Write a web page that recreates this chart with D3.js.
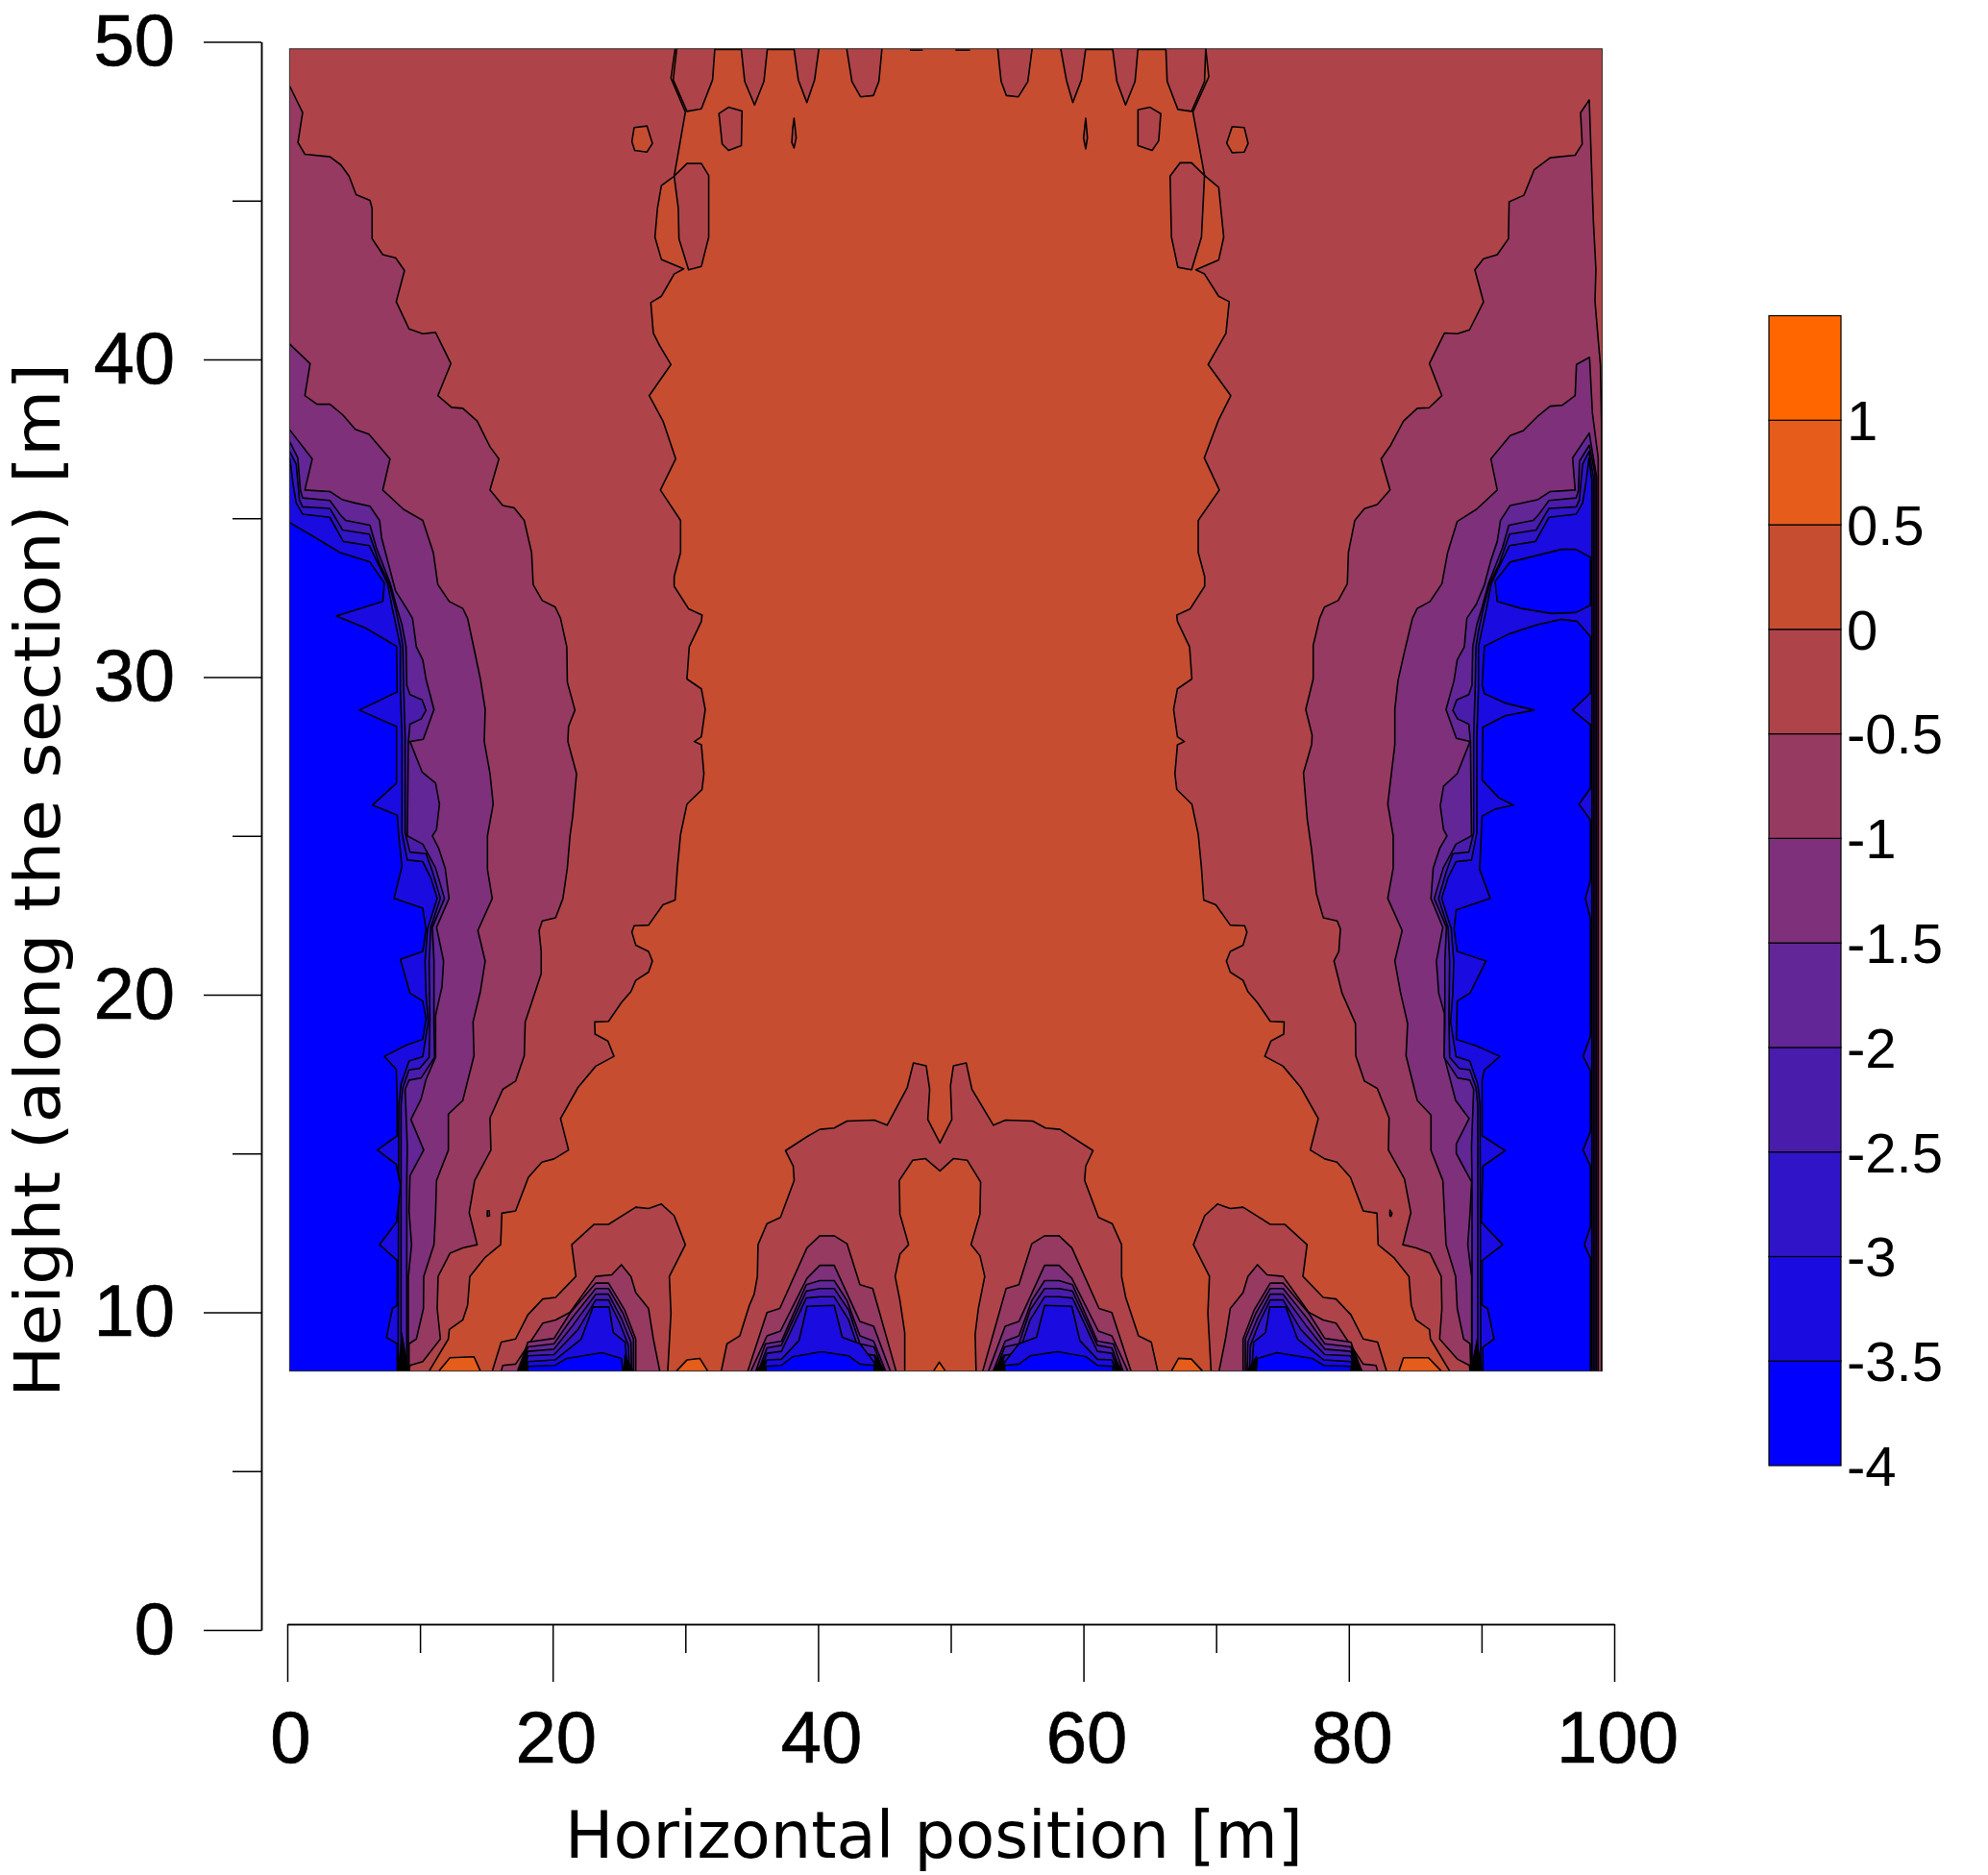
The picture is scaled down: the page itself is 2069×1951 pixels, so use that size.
<!DOCTYPE html>
<html>
<head>
<meta charset="utf-8">
<script src="https://cdn.jsdelivr.net/npm/d3@7"></script>
<style>
  body { margin: 0; background: #fff; }
  text { fill: #000; }
</style>
</head>
<body>
<div id="chart"></div>
<script>
// contour levels of the colour bar, lowest band first
const levels = [-4, -3.5, -3, -2.5, -2, -1.5, -1, -0.5, 0, 0.5, 1];
const levelTop = 1.5;
const bandColors = ["#0000ff", "#1a0be0", "#2f14c8", "#4a1cac", "#622696", "#7e307a", "#963a62", "#ae4449", "#c64d30", "#e55c1b", "#ff6600"];
const yTicks = [0, 5, 10, 15, 20, 25, 30, 35, 40, 45, 50];
const xTicks = [0, 10, 20, 30, 40, 50, 60, 70, 80, 90, 100];

// extent of the computed field [m]
const fieldX = [0.17, 98.6];
const fieldY = [8.15, 49.78];

// contours, [horizontal m, height m]
const zeroLeft = [[29.08,49.78],[28.77,48.85],[29.85,47.79],[29.01,45.77],[28.05,45.47],[27.76,44.76],[27.57,43.85],[28.05,43.15],[29.73,42.85],[29.01,42.69],[28.05,41.99],[27.26,41.79],[27.45,40.83],[27.93,40.43],[28.77,39.84],[27.14,38.86],[28.17,38.06],[29.13,36.87],[27.98,35.89],[29.49,34.93],[29.49,33.92],[29.01,33.16],[29.01,32.86],[30.09,32.15],[31.1,31.95],[31.05,31.75],[30.14,30.95],[29.97,29.94],[31.05,29.63],[31.34,28.98],[31.05,28.12],[30.52,27.97],[31.05,27.87],[31.24,26.96],[31.1,26.46],[29.97,26],[29.49,25.05],[29.25,23.99],[29.08,22.98],[28.17,22.83],[27.09,22.19],[26.01,22.17],[25.84,21.97],[26.13,21.56],[27.09,21.36],[27.38,21.06],[27.09,20.71],[26.13,20.45],[25.77,20.1],[25.05,19.75],[24.09,19.16],[23.05,19.14],[23.08,18.76],[24.04,18.54],[24.5,18.06],[23.13,17.75],[21.8,17.08],[20.49,16.1],[21.09,15.11],[20,14.83],[19.09,14.73],[18.08,14.25],[17.12,13.19],[16.09,13.12],[16,12.13],[14.84,11.73],[13.69,11.13],[13.52,10.22],[13.16,9.76],[12.15,9.46],[12.08,9.16],[10.64,8.15]];
const zeroRight = [[68.87,49.78],[69.1,48.9],[67.91,47.79],[68.78,45.79],[69.84,45.42],[70.22,43.85],[69.84,43.13],[68.13,42.82],[68.78,42.69],[69.84,41.99],[70.63,41.82],[70.39,40.83],[69.05,39.84],[70.75,38.86],[69.84,38.1],[68.76,36.9],[69.89,35.89],[68.31,34.93],[68.31,33.92],[68.79,33.16],[68.79,32.86],[67.71,32.15],[66.7,31.95],[66.75,31.75],[67.66,30.95],[67.83,29.94],[66.75,29.63],[66.46,28.98],[66.75,28.12],[67.28,27.97],[66.75,27.87],[66.56,26.96],[66.7,26.46],[67.83,26],[68.31,25.05],[68.55,23.99],[68.72,22.98],[69.63,22.83],[70.71,22.19],[71.79,22.17],[71.96,21.97],[71.67,21.56],[70.71,21.36],[70.42,21.06],[70.71,20.71],[71.67,20.45],[72.03,20.1],[72.75,19.75],[73.71,19.16],[74.75,19.14],[74.72,18.76],[73.76,18.54],[73.3,18.06],[74.67,17.75],[76,17.08],[77.31,16.1],[76.71,15.11],[77.8,14.83],[78.71,14.73],[79.72,14.25],[80.68,13.19],[81.71,13.12],[81.8,12.13],[82.96,11.73],[84.11,11.13],[84.28,10.22],[84.64,9.76],[85.65,9.46],[85.72,9.16],[87.16,8.15]];

// islands near the top
const topA = [[29.2,49.78],[28.94,48.8],[29.97,47.81],[31.05,47.89],[31.89,48.8],[32.06,49.78]];
const topB = [[34.04,49.78],[34.3,48.75],[35.04,48.01],[35.74,48.75],[36,49.78]];
const topC = [[38,49.78],[38.32,48.8],[38.96,48.09],[39.54,48.8],[39.86,49.78]];
const topD = [[41.95,49.78],[42.34,48.75],[42.98,48.27],[43.95,48.31],[44.36,48.75],[44.59,49.78]];
const topE = [[53.27,49.78],[53.53,48.75],[53.92,48.31],[54.82,48.27],[55.53,48.75],[55.85,49.78]];
const topF = [[58,49.78],[58.42,48.8],[58.9,48.09],[59.55,48.8],[59.87,49.78]];
const topG = [[61.89,49.78],[62.21,48.75],[62.86,48.01],[63.57,48.75],[63.79,49.78]];
const topH = [[65.88,49.78],[65.98,48.75],[66.78,47.87],[67.81,47.81],[68.78,48.75],[68.87,49.78]];
const topEdges = [[[32.06,49.76],[34.04,49.76]],[[36,49.76],[38,49.76]],[[46.68,49.74],[47.65,49.74]],[[50.1,49.74],[51.2,49.74]],[[59.87,49.76],[61.89,49.76]],[[63.79,49.76],[65.88,49.76]]];
const warmLeft = [[26.01,47.3],[26.97,47.35],[27.38,46.8],[26.97,46.53],[26.05,46.58],[25.84,46.86]];
const warmRight = [[70.85,47.33],[71.76,47.3],[72.05,46.8],[71.76,46.53],[70.85,46.51],[70.44,46.81]];
const coolA = [[32.37,47.74],[33.09,47.94],[34.1,47.82],[34.05,46.73],[33.09,46.58],[32.61,46.78]];
const coolB = [[38,47.59],[38.16,46.98],[38,46.66],[37.83,46.83],[37.9,47.28]];
const coolC = [[29.01,45.77],[29.97,46.17],[31.05,46.17],[31.6,45.79],[31.6,43.85],[31.05,42.93],[30.09,42.82],[29.37,43.8],[29.32,44.76]];
const coolD = [[63.79,47.86],[64.69,47.94],[65.5,47.74],[65.34,46.88],[64.85,46.58],[63.79,46.73]];
const coolE = [[59.87,47.59],[60,46.98],[59.87,46.63],[59.71,46.98]];
const coolF = [[66.94,46.19],[67.81,46.19],[68.78,45.79],[68.55,43.85],[67.81,42.82],[66.78,42.9],[66.3,43.85],[66.2,45.77]];
const dotLeft = [[15,13.2],[15.14,13.2],[15.17,13.04],[15,13.02]];
const dotRight = [[82.68,13.22],[82.84,13.12],[82.76,13.02],[82.68,13.04]];

// left side contours, top to bottom
const leftM05 = [[0.19,48.6],[1.15,47.77],[0.8,46.83],[1.32,46.46],[3.2,46.38],[4.03,46.12],[4.63,45.77],[5.16,45.19],[6.2,45.01],[6.36,44.76],[6.36,43.8],[7.16,43.3],[8.12,43.2],[8.79,42.8],[8.17,41.82],[9.13,40.96],[10.16,40.81],[11.12,40.85],[12.27,39.87],[11.29,38.86],[12.32,38.49],[13.16,38.46],[14.24,38.06],[15.2,37.25],[15.87,36.87],[15.2,35.89],[16.16,35.4],[17,35.33],[17.77,34.93],[18.32,33.92],[18.44,32.91],[19.12,32.41],[20.08,32.21],[20.49,31.85],[20.96,30.95],[21,29.84],[21.57,28.96],[21.09,28.44],[21.04,27.97],[21.69,26.96],[21.4,25.6],[21.2,25],[21,23.99],[20.67,23.03],[20.12,22.42],[19.12,22.32],[18.88,22.02],[19.04,21.36],[19.04,20.66],[17.84,19.14],[17.77,18.08],[17.12,17.28],[16.16,17.02],[15.2,16.12],[15.27,15.11],[14.05,14.15],[13.64,13.14],[14.24,12.13],[13.16,12.03],[12.2,11.86],[11.31,11.13],[11.24,10.12],[11.48,9.16],[10.16,8.45],[9.2,8.33],[9.13,8.15]];
const leftM1 = [[0.19,40.48],[1.71,39.87],[1.32,38.86],[2.23,38.59],[3.2,38.59],[4.15,38.26],[5.1,37.8],[6.12,37.65],[7.7,36.87],[7.16,35.89],[8.72,35.28],[10.16,34.93],[10.95,33.92],[11.29,32.91],[12.15,32.38],[13.16,32.16],[13.52,31.85],[14,30.9],[14.48,29.94],[14.84,28.98],[14.77,27.97],[15.2,26.96],[15.44,26],[15.01,25],[15.01,23.94],[15.37,23.03],[14.29,22.02],[14.84,21.06],[14.48,20.1],[13.93,19.14],[14,18.08],[13.16,16.67],[12.08,16.24],[12.08,15.11],[11.19,14.15],[11.12,13.14],[11,12.13],[10.23,11.13],[10.21,10.12],[9.68,9.16],[9.13,9.01],[9.13,8.15]];
const leftM15 = [[0.19,37.78],[1.87,36.87],[1.32,35.89],[3.2,35.84],[4.15,35.58],[5.1,35.48],[6.2,35.38],[6.92,34.93],[7.08,34.37],[7.52,33.67],[8.12,32.71],[8.96,32.15],[9.39,31.85],[9.68,30.95],[10.16,30.54],[10.4,29.94],[11,28.98],[10.2,28.04],[9.2,27.97],[10.11,27.01],[11.12,26.66],[11.41,26],[11.19,25.2],[10.88,25],[11.36,24.6],[11.84,23.99],[12.13,23.03],[11.19,22.12],[11.72,21.06],[11.6,20.25],[11.12,19.35],[11.12,18.03],[10.4,17.33],[10.04,16.72],[9.27,16.07],[10.23,15.11],[9.2,14.3],[9.13,13.19],[9.32,12.13],[9.08,11.13],[9.08,8.15]];
const leftM2 = [[0.19,37.4],[0.79,36.9],[0.98,35.89],[1.15,35.64],[3.19,35.56],[4.03,35.08],[4.39,34.93],[6.2,34.78],[6.68,34.07],[7.71,32.96],[8.24,32.15],[8.6,31.65],[8.91,30.95],[8.96,29.74],[9.2,29.45],[10.11,29.28],[10.4,28.95],[10.04,28.68],[9.2,28.52],[9.08,27.97],[9,25],[10.16,24.74],[11.12,23.99],[11.79,23.03],[10.88,22.12],[11,21.06],[11,19.14],[11.05,18.03],[10.04,17.38],[9.13,17.31],[8.84,17.02],[9,15.21],[8.96,14],[8.96,8.15]];
const leftM25 = [[0.19,37.1],[0.67,36.7],[0.91,35.58],[1.15,35.36],[3.19,35.31],[4.15,34.63],[6.15,34.5],[6.92,33.57],[7.64,32.94],[8.12,32.15],[8.48,31.45],[8.67,30.95],[8.72,29.74],[8.84,28.12],[8.84,25.1],[9.2,24.49],[10.4,24.44],[10.88,23.89],[11.48,23.03],[10.76,22.12],[10.64,21.06],[10.69,19.24],[10.64,18.03],[9.92,17.68],[9.13,17.63],[8.67,17.08],[8.53,16.52],[8.53,8.15]];
const leftM3 = [[0.19,36.89],[0.43,36.09],[0.67,35.48],[1.15,35.13],[3.19,35.03],[4.2,34.27],[6.15,34.14],[7.04,33.37],[7.52,32.94],[7.88,32.15],[8.24,31.45],[8.48,30.95],[8.48,29.63],[8.6,28.12],[8.6,25.1],[9,24.24],[10.16,24.19],[10.76,23.68],[11.24,23.03],[10.52,22.07],[10.33,21.06],[10.4,20.05],[10.57,19.14],[10.16,18.05],[9.13,17.91],[8.53,17.18],[8.36,16.52],[8.31,8.15]];
const leftM35 = [[0.19,34.86],[1.75,34.48],[3.96,33.92],[6.2,33.62],[7.28,32.96],[7.16,32.38],[3.67,31.92],[5.84,31.55],[8.19,30.97],[8.24,29.53],[5.4,28.96],[8.19,28.44],[8.19,26.66],[6.39,25.97],[8.24,25.65],[8.36,25],[8.6,24.04],[8,23.03],[10.16,22.72],[10.4,22.07],[10.16,21.36],[8.48,21.11],[9.2,20.05],[10.16,19.8],[10.4,19.24],[10.16,18.59],[8.96,18.42],[7.28,18.06],[8.17,17.65],[8.24,16.62],[8.24,15.56],[6.75,15.11],[8.17,14.66],[8.48,14],[8.19,12.84],[6.92,12.13],[8.24,11.63],[8.24,10.22],[7.88,10.12],[7.44,9.21],[8.24,9.01],[8.24,8.15]];

// right side contours, each runs up the dense edge column and back down
const rightM05 = [[98.55,8.15],[98.55,38],[98.47,39.82],[98.3,40.63],[98.06,41.84],[98.13,42.84],[97.94,44.36],[97.63,48.17],[96.98,47.77],[97.1,46.78],[96.57,46.43],[94.7,46.35],[93.5,45.97],[92.73,45.17],[91.62,44.96],[91.57,43.8],[90.73,43.3],[89.7,43.17],[89.05,42.82],[89.7,41.81],[88.65,40.93],[87.73,40.81],[86.77,40.83],[85.64,39.87],[86.58,38.86],[85.62,38.48],[84.73,38.46],[83.7,38.06],[82.74,37.3],[82.02,36.87],[82.69,35.89],[81.73,35.43],[80.77,35.3],[80.05,34.93],[79.57,33.92],[79.49,32.94],[78.8,32.41],[77.77,32.2],[77.41,31.85],[76.93,31],[76.93,29.94],[76.37,28.98],[76.85,28.17],[76.81,27.87],[76.2,26.99],[76.49,25.5],[76.8,24.59],[77.17,23.18],[77.69,22.42],[78.73,22.32],[78.97,22.07],[78.85,21.36],[78.49,21.06],[79.09,20.05],[80.1,19.09],[80.12,18.08],[80.77,17.28],[81.73,17.05],[82.62,16.12],[82.57,15.11],[83.77,14.2],[84.25,13.14],[83.65,12.13],[84.66,12.03],[85.69,11.86],[86.53,11.13],[86.58,10.12],[86.41,9.16],[87.73,8.53],[88.64,8.33],[88.69,8.15]];
const rightM1 = [[98.3,8.15],[98.3,36.9],[97.87,38.3],[97.65,40.07],[96.67,39.84],[96.57,38.86],[95.61,38.56],[94.7,38.53],[93.74,38.2],[92.66,37.75],[91.7,37.6],[90.25,36.87],[90.73,35.89],[89.17,35.28],[87.73,34.9],[87.01,33.92],[86.58,32.94],[85.69,32.38],[84.73,32.16],[84.37,31.85],[83.77,30.79],[83.29,29.89],[83.05,28.98],[83.05,27.87],[82.52,26],[82.93,25],[82.93,23.99],[82.52,23.03],[83.6,22.02],[83.05,21.06],[83.46,20.1],[84.01,19.09],[83.89,18.08],[84.73,16.67],[85.76,16.21],[85.76,15.1],[86.65,14.15],[86.77,13.14],[86.89,12.13],[87.61,11.13],[87.73,10.12],[88.21,9.16],[88.69,9.01],[88.74,8.15]];
const rightM15 = [[98.18,8.15],[98.18,36.3],[97.63,37.68],[96.38,36.9],[96.57,35.89],[94.7,35.84],[93.74,35.58],[91.7,35.4],[90.97,34.93],[90.73,34.27],[90.25,33.67],[89.77,32.91],[89.17,32.3],[88.45,31.85],[88.26,30.95],[87.73,30.54],[87.49,29.89],[86.89,28.98],[87.66,28.07],[88.69,27.97],[87.73,26.96],[86.7,26.56],[86.46,25.95],[86.7,25.2],[86.96,25],[86.41,24.6],[85.93,23.99],[85.76,23.03],[86.65,22.12],[86.17,21.06],[86.34,20.05],[86.77,19.4],[86.77,18.03],[87.61,16.67],[88.62,16.1],[87.66,15.3],[87.66,15],[88.81,14.1],[88.69,13.14],[88.52,12.13],[88.81,11.13],[88.81,8.15]];
const rightM2 = [[98.06,8.15],[98.06,36.4],[97.63,37.3],[96.9,36.8],[96.82,35.89],[96.65,35.64],[94.61,35.56],[93.77,35.08],[93.41,34.93],[91.6,34.78],[91.12,34.07],[90.09,32.96],[89.56,32.15],[89.2,31.65],[88.89,30.95],[88.84,29.74],[88.6,29.45],[87.69,29.28],[87.4,28.95],[87.76,28.68],[88.6,28.52],[88.72,27.97],[88.8,25],[87.64,24.74],[86.68,23.99],[86.01,23.03],[86.92,22.12],[86.8,21.06],[86.8,19.14],[86.75,18.03],[87.76,17.38],[88.67,17.31],[88.96,17.02],[88.8,15.21],[88.84,14],[88.84,8.15]];
const rightM25 = [[97.94,8.15],[97.94,36.3],[97.61,37.1],[97.13,36.7],[96.89,35.58],[96.65,35.36],[94.61,35.31],[93.65,34.63],[91.65,34.5],[90.88,33.57],[90.16,32.94],[89.68,32.15],[89.32,31.45],[89.13,30.95],[89.08,29.74],[88.96,28.12],[88.96,25.1],[88.6,24.49],[87.4,24.44],[86.92,23.89],[86.32,23.03],[87.04,22.12],[87.16,21.06],[87.11,19.24],[87.16,18.03],[87.88,17.68],[88.67,17.63],[89.13,17.08],[89.27,16.52],[89.27,8.15]];
const rightM3 = [[97.82,8.15],[97.82,36.2],[97.61,36.89],[97.37,36.09],[97.13,35.48],[96.65,35.13],[94.61,35.03],[93.6,34.27],[91.65,34.14],[90.76,33.37],[90.28,32.94],[89.92,32.15],[89.56,31.45],[89.32,30.95],[89.32,29.63],[89.2,28.12],[89.2,25.1],[88.8,24.24],[87.64,24.19],[87.04,23.68],[86.56,23.03],[87.28,22.07],[87.47,21.06],[87.4,20.05],[87.23,19.14],[87.64,18.05],[88.67,17.91],[89.27,17.18],[89.44,16.52],[89.49,8.15]];
const rightM35Upper = [[97.72,33.77],[96.62,34.02],[95.54,34.02],[91.7,33.62],[90.57,33.01],[90.73,32.38],[92.53,32.16],[94.82,32],[96.62,32.03],[97.72,32.26]];
const rightM35 = [[97.72,31.27],[96.74,31.75],[95.54,31.82],[93.74,31.65],[91.57,31.35],[89.77,30.97],[89.65,30.14],[89.6,29.74],[89.77,29.48],[91.33,29.18],[93.5,28.96],[91.33,28.78],[89.65,28.42],[89.6,26.76],[90.85,26.2],[91.94,25.97],[90.61,25.85],[89.6,25.62],[89.41,23.94],[90.21,23.03],[87.66,22.67],[87.49,22.07],[87.73,21.36],[89.89,21.06],[88.69,20.05],[87.73,19.8],[87.66,18.59],[89.17,18.39],[90.93,18.06],[89.77,17.63],[89.6,17.33],[89.6,15.56],[91.33,15.09],[89.65,14.6],[89.53,12.84],[91.14,12.13],[89.6,11.63],[89.6,10.22],[90.01,10.12],[90.49,9.16],[89.65,8.9],[89.65,8.15]];
const rightM35Edge = [[97.72,8.15],[97.72,11.7],[97.27,12.13],[97.72,12.7],[97.72,14.6],[97.17,15.11],[97.72,15.7],[97.72,17.6],[97.17,18.06],[97.72,18.7],[97.72,22.4],[97.34,23.03],[97.72,23.6],[97.72,25.5],[96.86,26],[97.72,26.5],[97.72,28.5],[96.38,28.96],[97.72,29.5],[97.72,31.27]];

// bottom lobes, lobe 1 at x=23.6
const lobe1M0 = [[15.37,8.15],[16.04,9.06],[17.12,9.16],[18.04,9.92],[19.16,10.42],[20.12,10.47],[21.64,11.13],[21.33,12.13],[23.01,12.77],[24.09,12.77],[26.13,13.31],[27.09,13.27],[28.05,13.41],[29.01,13.04],[29.85,12.13],[28.65,11.13],[28.77,9.97],[28.53,8.15]];
const lobe1M05 = [[16.04,8.15],[16.16,8.33],[17.12,8.37],[19.16,9.66],[20.12,9.76],[21.2,10],[23.13,11.13],[24.33,11.18],[25.05,11.5],[25.77,11.13],[26.13,10.62],[27.09,10.12],[27.45,9.16],[27.93,8.15]];
const lobe1M1 = [[17.3,8.15],[18.04,9.06],[20,9.18],[21.2,9.97],[23.13,10.92],[24.09,10.92],[25.3,10.07],[26.13,9.16],[26.13,8.15]];
const lobe1M15 = [[17.48,8.15],[18.04,8.91],[20,9.01],[21.33,9.81],[23.13,10.75],[24.09,10.75],[25.17,9.97],[25.96,9.16],[25.96,8.15]];
const lobe1M2 = [[17.6,8.15],[18.04,8.77],[20,8.84],[21.45,9.61],[23.13,10.57],[24.09,10.57],[25.05,9.81],[25.77,9.06],[25.82,8.15]];
const lobe1M25 = [[17.72,8.15],[18.04,8.63],[20,8.67],[21.8,9.46],[23.13,10.39],[24.09,10.39],[24.93,9.66],[25.58,8.96],[25.65,8.15]];
const lobe1M3 = [[17.84,8.15],[18.04,8.45],[20.07,8.5],[22.04,9.16],[22.93,10.17],[24.13,10.17],[24.45,9.36],[25.34,9.06],[25.48,8.15]];
const lobe1M35 = [[18.04,8.15],[18.04,8.3],[20.07,8.33],[20.96,8.55],[23.6,8.73],[25.05,8.55],[25.17,8.15]];

// lobes 2 and 3 share one outer contour with the notch in the middle
const lobeMidM0 = [[32.54,8.15],[32.97,9.01],[33.93,9.26],[34.65,10.22],[35.01,10.57],[35.25,11.13],[35.3,12.13],[35.97,12.79],[36.98,12.99],[38.01,14.15],[37.94,14.6],[37.36,15.09],[38.97,15.53],[39.93,15.76],[41.01,15.8],[41.97,16.02],[44.02,16.05],[44.98,15.89],[46.49,17.08],[46.95,17.85],[47.91,17.76],[48.17,17.02],[48.03,16.07],[48.94,15.33],[49.83,16.07],[49.73,17.13],[49.95,17.76],[50.91,17.85],[51.34,17.02],[52.95,15.89],[53.86,16.05],[55.9,16.02],[56.86,15.8],[57.94,15.76],[60.42,15.09],[59.87,14.6],[59.79,14.15],[60.83,12.99],[61.86,12.79],[62.56,12.13],[62.56,11.13],[62.87,10.47],[63.83,9.26],[64.79,9.06],[65.27,8.15]];
const heart = [[46.3,8.15],[46.3,9.36],[45.94,10.37],[45.58,11.13],[45.94,11.83],[46.59,12.13],[45.94,13.09],[45.89,14.15],[46.9,14.79],[47.86,14.84],[48.94,14.45],[49.95,14.84],[50.98,14.79],[51.99,14.1],[51.94,13.09],[51.27,12.13],[51.94,11.78],[52.3,11.13],[51.82,10.12],[51.58,9.31],[51.65,8.15]];

const lobe2M05 = [[34.53,8.15],[35.97,9.99],[36.93,10.12],[38.97,12.03],[39.93,12.41],[41.01,12.41],[41.97,12.16],[42.94,10.87],[43.9,10.75],[45.65,8.15]];
const lobe2M1 = [[34.77,8.15],[35.97,9.26],[36.98,9.41],[38.97,11.07],[39.93,11.48],[41.01,11.48],[42.94,9.71],[43.97,9.56],[45.22,8.15]];
const lobe2M15 = [[35.13,8.15],[35.85,9.01],[37.05,9.09],[38.92,10.87],[39.93,11],[41.01,11],[41.97,10.37],[42.94,9.26],[43.97,9.09],[44.86,8.15]];
const lobe2M2 = [[35.32,8.15],[35.97,8.88],[37.05,8.96],[38.92,10.67],[39.93,10.75],[41.01,10.75],[42.1,10.07],[42.94,9.01],[44,8.91],[44.69,8.15]];
const lobe2M25 = [[35.49,8.15],[35.97,8.71],[37.05,8.77],[38.92,10.45],[39.93,10.49],[41.01,10.49],[42.1,9.76],[42.94,8.71],[44,8.65],[44.5,8.15]];
const lobe2M3 = [[35.66,8.15],[35.97,8.5],[37.05,8.52],[38.37,9.11],[38.97,10.19],[41.01,10.22],[41.62,9.21],[42.94,9.01],[43.97,8.45],[44.26,8.15]];
const lobe2M35 = [[35.9,8.15],[35.9,8.3],[37.05,8.33],[37.89,8.6],[40.05,8.76],[42.1,8.63],[42.94,8.37],[44,8.33],[44,8.15]];

const lobe3M05 = [[52.15,8.15],[53.9,10.75],[54.86,10.87],[55.83,12.16],[56.79,12.41],[57.87,12.41],[58.83,12.03],[60.87,10.12],[61.83,9.99],[63.27,8.15]];
const lobe3M1 = [[52.58,8.15],[53.83,9.56],[54.86,9.71],[56.79,11.48],[57.87,11.48],[58.83,11.07],[60.82,9.41],[61.83,9.26],[63.03,8.15]];
const lobe3M15 = [[52.94,8.15],[53.83,9.09],[54.86,9.26],[55.83,10.37],[56.79,11],[57.87,11],[58.88,10.87],[60.75,9.09],[61.95,9.01],[62.67,8.15]];
const lobe3M2 = [[53.11,8.15],[53.8,8.91],[54.86,9.01],[55.7,10.07],[56.79,10.75],[57.87,10.75],[58.88,10.67],[60.75,8.96],[61.83,8.88],[62.48,8.15]];
const lobe3M25 = [[53.3,8.15],[53.8,8.65],[54.86,8.71],[55.7,9.76],[56.79,10.49],[57.87,10.49],[58.88,10.45],[60.75,8.77],[61.83,8.71],[62.31,8.15]];
const lobe3M3 = [[53.54,8.15],[53.83,8.45],[54.86,9.01],[56.18,9.21],[56.79,10.22],[58.83,10.19],[59.43,9.11],[60.75,8.52],[61.83,8.5],[62.14,8.15]];
const lobe3M35 = [[53.8,8.15],[53.8,8.33],[54.86,8.37],[55.7,8.63],[57.75,8.76],[59.91,8.6],[60.75,8.33],[61.9,8.3],[61.9,8.15]];

const lobe4M0 = [[69.27,8.15],[69.03,9.97],[69.15,11.13],[67.95,12.13],[68.79,13.04],[69.75,13.41],[70.71,13.27],[71.67,13.31],[73.71,12.77],[74.79,12.77],[76.47,12.13],[76.16,11.13],[77.68,10.47],[78.64,10.42],[79.76,9.92],[80.68,9.16],[81.76,9.06],[82.43,8.15]];
const lobe4M05 = [[69.87,8.15],[70.35,9.16],[70.71,10.12],[71.67,10.62],[72.03,11.13],[72.75,11.5],[73.47,11.18],[74.67,11.13],[76.6,10],[77.68,9.76],[78.64,9.66],[80.68,8.37],[81.64,8.33],[81.76,8.15]];
const lobe4M1 = [[71.67,8.15],[71.67,9.16],[72.5,10.07],[73.71,10.92],[74.67,10.92],[76.6,9.97],[77.8,9.18],[79.76,9.06],[80.5,8.15]];
const lobe4M15 = [[71.84,8.15],[71.84,9.16],[72.63,9.97],[73.71,10.75],[74.67,10.75],[76.47,9.81],[77.8,9.01],[79.76,8.91],[80.32,8.15]];
const lobe4M2 = [[71.98,8.15],[72.03,9.06],[72.75,9.81],[73.71,10.57],[74.67,10.57],[76.35,9.61],[77.8,8.84],[79.76,8.77],[80.2,8.15]];
const lobe4M25 = [[72.15,8.15],[72.22,8.96],[72.87,9.66],[73.71,10.39],[74.67,10.39],[76,9.46],[77.8,8.67],[79.76,8.63],[80.08,8.15]];
const lobe4M3 = [[72.32,8.15],[72.46,9.06],[73.35,9.36],[73.67,10.17],[74.87,10.17],[75.76,9.16],[77.73,8.5],[79.76,8.45],[79.96,8.15]];
const lobe4M35 = [[72.63,8.15],[72.75,8.55],[74.2,8.73],[76.84,8.55],[77.73,8.33],[79.76,8.3],[79.76,8.15]];

// small 0.5 patches on the bottom edge
const hotA = [[11.36,8.15],[12.2,8.57],[14,8.6],[14.48,8.15]];
const hotB = [[29.18,8.15],[29.97,8.5],[30.93,8.55],[31.53,8.15]];
const hotC = [[48.46,8.15],[48.89,8.43],[49.35,8.15]];
const hotD = [[66.3,8.15],[66.83,8.55],[67.79,8.53],[68.63,8.15]];
const hotE = [[83.36,8.15],[83.7,8.57],[85.57,8.57],[86.53,8.15]];

// spots on the bottom edge where so many contours meet that they merge to black
const merged = [
    [[8.24,8.15],[8.6,9.4],[9.13,8.15]],
    [[17.2,8.15],[18,9],[18.04,8.15]],
    [[25.17,8.15],[25.3,8.7],[26,8.15]],
    [[35.13,8.15],[35.85,8.6],[35.9,8.15]],
    [[44,8.15],[44.06,8.7],[44.86,8.15]],
    [[52.9,8.15],[53.74,8.7],[53.8,8.15]],
    [[62,8.15],[62.03,8.6],[62.7,8.15]],
    [[71.9,8.15],[72.7,8.65],[72.72,8.15]],
    [[79.8,8.15],[79.82,9],[80.65,8.15]],
    [[88.69,8.15],[89.2,9.2],[89.65,8.15]]
];

const svg = d3.select("#chart").append("svg")
    .attr("width", 2069)
    .attr("height", 1951);

const x = d3.scaleLinear().domain([0, 100]).range([299, 1680]);
const y = d3.scaleLinear().domain([0, 50]).range([1696, 43.5]);
const barScale = d3.scaleLinear().domain([-4, levelTop]).range([1525, 328.5]);
// the contour readings above came out 0.5% short against the final axis
const readingScale = 1.005;

const bandColor = i => bandColors[i];
const band = v => bandColor(levels.indexOf(v));

const line = d3.line().x(d => x(d[0] * readingScale)).y(d => y(d[1]));

const field = svg.append("g");

function fillShape(pts, color) {
    field.append("path").attr("d", line(pts) + "Z").attr("fill", color).attr("stroke", "none");
}
function strokeShape(pts, closed) {
    field.append("path")
        .attr("d", line(pts) + (closed ? "Z" : ""))
        .attr("fill", "none")
        .attr("stroke", "#000")
        .attr("stroke-width", 1.6)
        .attr("stroke-linejoin", "round");
}
// filled area bounded by a contour that ends on the field border
function openShape(pts, color) {
    fillShape(pts, color);
    strokeShape(pts, false);
}
function closedShape(pts, color) {
    fillShape(pts, color);
    strokeShape(pts, true);
}

// base band and the central 0 region
fillShape([[fieldX[0], fieldY[0]], [fieldX[0], fieldY[1]], [fieldX[1], fieldY[1]], [fieldX[1], fieldY[0]]], band(-0.5));
fillShape(zeroLeft.concat(zeroRight.slice().reverse()), band(0));
strokeShape(zeroLeft, false);
strokeShape(zeroRight, false);

[topA, topB, topC, topD, topE, topF, topG, topH].forEach(d => openShape(d, band(-0.5)));
topEdges.forEach(d => strokeShape(d, false));
[coolA, coolB, coolC, coolD, coolE, coolF].forEach(d => closedShape(d, band(-0.5)));
[warmLeft, warmRight].forEach(d => closedShape(d, band(0)));
[dotLeft, dotRight].forEach(d => closedShape(d, band(-1)));

// side walls, outermost level first
const leftContours = [[leftM05, -1], [leftM1, -1.5], [leftM15, -2], [leftM2, -2.5], [leftM25, -3], [leftM3, -3.5], [leftM35, -4]];
leftContours.forEach(([pts, lv]) => {
    fillShape(pts.concat([[fieldX[0], fieldY[0]], [fieldX[0], pts[0][1]]]), band(lv));
    strokeShape(pts, false);
});
const rightContours = [[rightM05, -1], [rightM1, -1.5], [rightM15, -2], [rightM2, -2.5], [rightM25, -3], [rightM3, -3.5]];
rightContours.forEach(([pts, lv]) => openShape(pts, band(lv)));
closedShape(rightM35Upper, band(-4));
fillShape(rightM35.concat([[97.72, 8.15]]).concat(rightM35Edge), band(-4));
strokeShape(rightM35, false);
strokeShape(rightM35Edge, false);

// bottom lobes
openShape(lobe1M0, band(-0.5));
openShape(lobe4M0, band(-0.5));
openShape(lobeMidM0, band(-0.5));
openShape(heart, band(0));
[
    [lobe1M05, lobe1M1, lobe1M15, lobe1M2, lobe1M25, lobe1M3, lobe1M35],
    [lobe2M05, lobe2M1, lobe2M15, lobe2M2, lobe2M25, lobe2M3, lobe2M35],
    [lobe3M05, lobe3M1, lobe3M15, lobe3M2, lobe3M25, lobe3M3, lobe3M35],
    [lobe4M05, lobe4M1, lobe4M15, lobe4M2, lobe4M25, lobe4M3, lobe4M35]
].forEach(lobe => lobe.forEach((pts, i) => openShape(pts, band(levels[6 - i]))));
[hotA, hotB, hotC, hotD, hotE].forEach(d => openShape(d, band(0.5)));
merged.forEach(d => fillShape(d, "#000"));

// field frame
svg.append("rect")
    .attr("x", x(fieldX[0] * readingScale)).attr("y", y(fieldY[1]))
    .attr("width", x(fieldX[1] * readingScale) - x(fieldX[0] * readingScale))
    .attr("height", y(fieldY[0]) - y(fieldY[1]))
    .attr("fill", "none").attr("stroke", "#333").attr("stroke-width", 1);

// axes, long ticks carry the labels
function styleAxis(g) {
    g.selectAll("path, line").attr("stroke", "#000").attr("stroke-width", 1.5);
    g.selectAll("text")
        .attr("font-family", "'Liberation Sans', Arial, sans-serif")
        .attr("font-size", 76)
        .attr("fill", "#000")
        .attr("stroke", "#000")
        .attr("stroke-width", 0.7);
}
const xAxisY = 1690, yAxisX = 272;
const xMajor = xTicks.filter(d => d % 20 === 0), yMajor = yTicks.filter(d => d % 10 === 0);

svg.append("g").attr("transform", `translate(0,${xAxisY})`)
    .call(d3.axisBottom(x).tickValues(xTicks.filter(d => d % 20 !== 0)).tickSizeInner(30).tickSizeOuter(0).tickFormat(""))
    .call(styleAxis);
svg.append("g").attr("transform", `translate(0,${xAxisY})`)
    .call(d3.axisBottom(x).tickValues(xMajor).tickSizeInner(60).tickSizeOuter(0).tickPadding(30).tickFormat(d3.format("d")))
    .call(styleAxis)
    .call(g => g.selectAll("text").attr("dx", 3));

svg.append("g").attr("transform", `translate(${yAxisX},0)`)
    .call(d3.axisLeft(y).tickValues(yTicks.filter(d => d % 10 !== 0)).tickSizeInner(30).tickSizeOuter(0).tickFormat(""))
    .call(styleAxis);
svg.append("g").attr("transform", `translate(${yAxisX},0)`)
    .call(d3.axisLeft(y).tickValues(yMajor).tickSizeInner(60).tickSizeOuter(0).tickPadding(30).tickFormat(d3.format("d")))
    .call(styleAxis);

svg.append("text")
    .attr("x", 972).attr("y", 1933)
    .attr("text-anchor", "middle")
    .attr("font-family", "'DejaVu Sans', Verdana, sans-serif")
    .attr("font-size", 68)
    .attr("textLength", 768).attr("lengthAdjust", "spacingAndGlyphs")
    .text("Horizontal position [m]");

svg.append("text")
    .attr("transform", "translate(62,916) rotate(-90)")
    .attr("text-anchor", "middle")
    .attr("font-family", "'DejaVu Sans', Verdana, sans-serif")
    .attr("font-size", 66)
    .attr("textLength", 1076).attr("lengthAdjust", "spacingAndGlyphs")
    .text("Height (along the section) [m]");

// colour bar
const barX = 1841, barW = 75;
const bar = svg.append("g");
bar.selectAll("rect")
    .data(levels)
    .join("rect")
    .attr("x", barX)
    .attr("width", barW)
    .attr("y", (d, i) => barScale(i < levels.length - 1 ? levels[i + 1] : levelTop))
    .attr("height", (d, i) => barScale(d) - barScale(i < levels.length - 1 ? levels[i + 1] : levelTop))
    .attr("fill", (d, i) => bandColor(i))
    .attr("stroke", "#000")
    .attr("stroke-width", 1.2);
bar.selectAll("text")
    .data(levels)
    .join("text")
    .attr("x", barX + barW + 6)
    .attr("y", d => barScale(d))
    .attr("dy", "0.36em")
    .attr("font-family", "'Liberation Sans', Arial, sans-serif")
    .attr("font-size", 58)
    .text(d => String(d));
</script>
</body>
</html>
